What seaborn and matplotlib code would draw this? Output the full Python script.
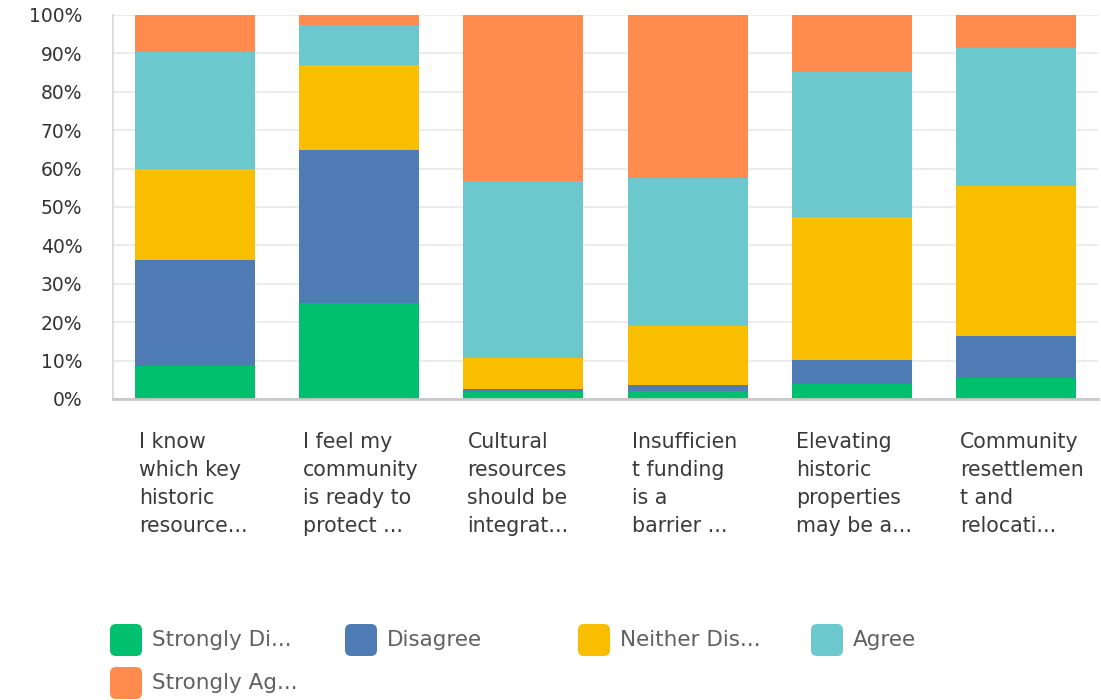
import numpy as np
import pandas as pd
import matplotlib
matplotlib.use("Agg")
import matplotlib.pyplot as plt
import matplotlib.transforms as mtransforms
from matplotlib.patches import FancyBboxPatch
import seaborn as sns

# Survey statements (as truncated in the chart) and response categories
questions = [
    "I know\nwhich key\nhistoric\nresource...",
    "I feel my\ncommunity\nis ready to\nprotect ...",
    "Cultural\nresources\nshould be\nintegrat...",
    "Insufficien\nt funding\nis a\nbarrier ...",
    "Elevating\nhistoric\nproperties\nmay be a...",
    "Community\nresettlemen\nt and\nrelocati...",
]
responses = ["Strongly Di...", "Disagree", "Neither Dis...", "Agree", "Strongly Ag..."]

# Share of respondents (%) per statement
strongly_disagree = [8.5, 25.0, 1.7, 2.2, 3.8, 5.5]
disagree = [27.8, 39.8, 1.0, 1.5, 6.3, 10.9]
neither = [23.7, 22.1, 8.0, 15.4, 37.3, 39.1]
agree = [30.4, 10.6, 46.2, 38.4, 37.8, 36.0]
strongly_agree = [9.6, 2.5, 43.1, 42.5, 14.8, 8.5]

colors = ["#00BF6F", "#507CB6", "#F9BE00", "#6BC8CD", "#FF8B4F"]

sns.set_theme(style="white")
plt.rcParams["font.family"] = ["DejaVu Sans"]

W, H = 1101, 700
fig = plt.figure(figsize=(W / 100, H / 100), dpi=100)
ax = fig.add_axes([113 / W, 1 - 399 / H, 985 / W, 384 / H])

shares = np.array([strongly_disagree, disagree, neither, agree, strongly_agree])
tops = shares.cumsum(axis=0)

# Stacked bars: draw cumulative totals from the top layer down
for k in range(len(responses) - 1, -1, -1):
    df = pd.DataFrame({"question": questions, "share": tops[k]})
    sns.barplot(data=df, x="question", y="share", order=questions,
                color=colors[k], saturation=1, width=0.73, linewidth=0,
                ax=ax, zorder=2)

ax.set_xlim(-0.5, len(questions) - 0.5)
ax.set_ylim(0, 100)
ax.set_xlabel("")
ax.set_ylabel("")
ax.set_yticks(np.arange(0, 101, 10))
ax.set_yticklabels([f"{v}%" for v in range(0, 101, 10)])
ax.yaxis.grid(True, color="#E9E9E9", linewidth=1.2, zorder=0)
ax.set_axisbelow(True)

for s in ["top", "right"]:
    ax.spines[s].set_visible(False)
ax.spines["left"].set_color("#D5D5D5")
ax.spines["left"].set_linewidth(1.2)
ax.spines["bottom"].set_color("#C8C8C8")
ax.spines["bottom"].set_linewidth(2)

ax.tick_params(axis="y", length=0, pad=22, labelsize=13.5, labelcolor="#333333")
ax.tick_params(axis="x", length=0, pad=24, labelsize=14.8, labelcolor="#3a3a3a")

# Left-align category labels with the left edge of each bar
shift = mtransforms.ScaledTranslation(-56 / 100, 0, fig.dpi_scale_trans)
for lab in ax.get_xticklabels():
    lab.set_ha("left")
    lab.set_va("top")
    lab.set_linespacing(1.5)
    lab.set_transform(lab.get_transform() + shift)

# Legend with rounded swatches
legend_items = [(110, 640), (345, 640), (578, 640), (811, 640), (110, 683)]
for (px, py), name, col in zip(legend_items, responses, colors):
    box = FancyBboxPatch(((px + 2) / 100, (H - py - 14) / 100), 0.28, 0.28,
                         boxstyle="round,pad=0.02,rounding_size=0.06",
                         transform=fig.dpi_scale_trans, facecolor=col,
                         edgecolor="none")
    fig.add_artist(box)
    fig.text((px + 42) / W, 1 - py / H, name, ha="left", va="center",
             fontsize=15.5, color="#606060")

fig.savefig("out.png", dpi=100)
